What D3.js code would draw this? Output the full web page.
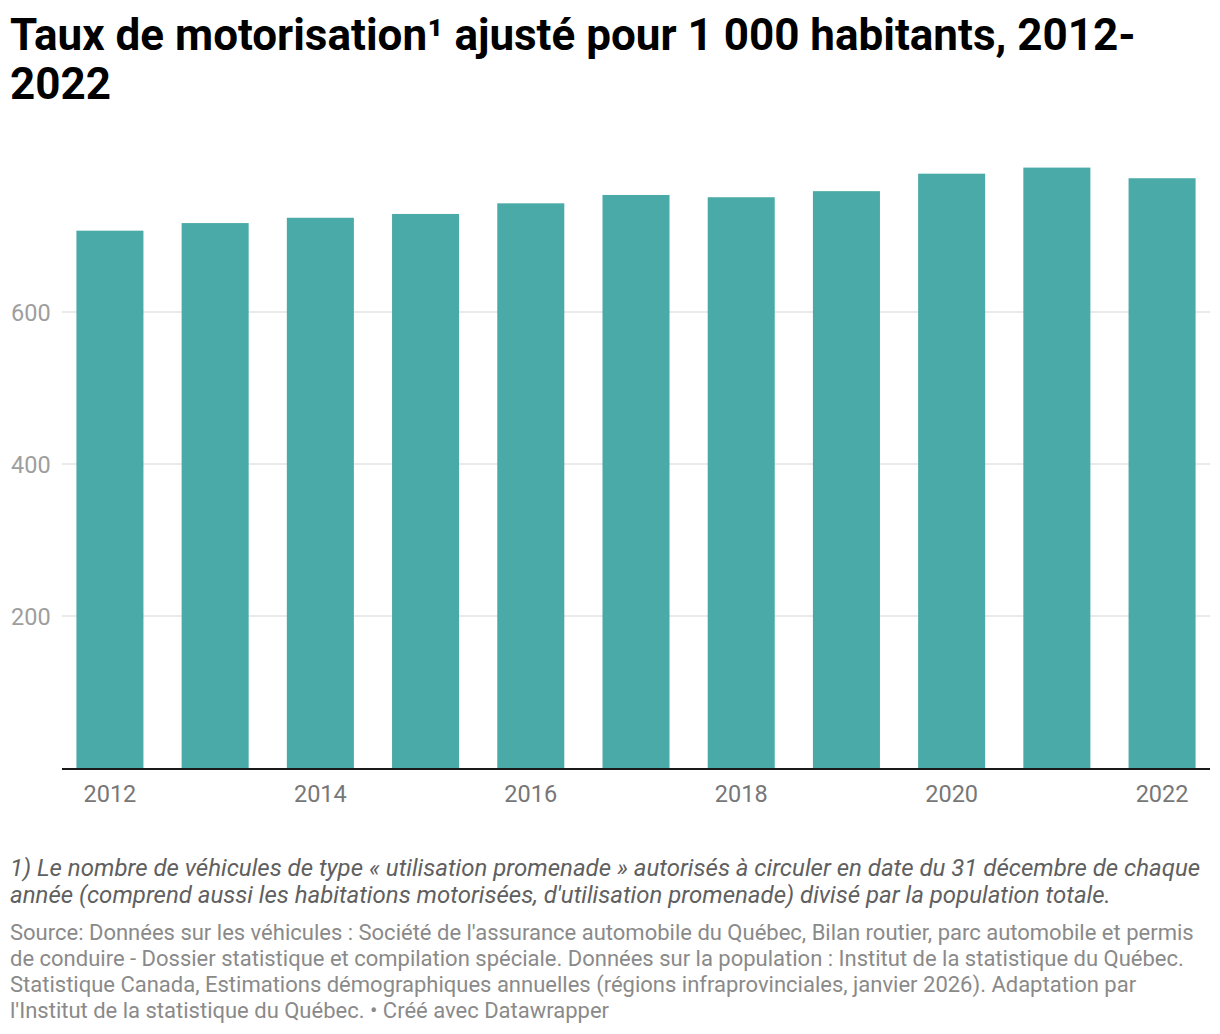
<!DOCTYPE html>
<html>
<head>
<meta charset="utf-8">
<script src="https://cdn.jsdelivr.net/npm/d3@7"></script>
<style>
  body { margin: 0; background: #fff; }
  svg { display: block; font-family: Roboto, sans-serif; }
</style>
</head>
<body>
<svg width="1220" height="1034"></svg>
<script>
// data
var years = ['2012', '2013', '2014', '2015', '2016', '2017', '2018', '2019', '2020', '2021', '2022'];
var values = [707, 717, 724, 729, 743, 754, 751, 759, 782, 790, 776];
var yTicks = [200, 400, 600];
var xTickLabels = ['2012', '2014', '2016', '2018', '2020', '2022'];

var titleLines = ['Taux de motorisation¹ ajusté pour 1 000 habitants, 2012-', '2022'];
var noteLines = [
  '1) Le nombre de véhicules de type « utilisation promenade » autorisés à circuler en date du 31 décembre de chaque',
  "année (comprend aussi les habitations motorisées, d'utilisation promenade) divisé par la population totale."
];
var sourceLines = [
  "Source: Données sur les véhicules : Société de l'assurance automobile du Québec, Bilan routier, parc automobile et permis",
  'de conduire - Dossier statistique et compilation spéciale. Données sur la population : Institut de la statistique du Québec.',
  'Statistique Canada, Estimations démographiques annuelles (régions infraprovinciales, janvier 2026). Adaptation par',
  "l'Institut de la statistique du Québec. • Créé avec Datawrapper"
];

var svg = d3.select('svg');

var left = 62, right = 1210, bottom = 768;

var x = d3.scaleBand()
  .domain(years)
  .range([left, right])
  .paddingInner(0.363)
  .paddingOuter(0.137);

var y = d3.scaleLinear()
  .domain([0, 800])
  .range([bottom, bottom - 800 * 0.76]);

// title
svg.append('text')
  .attr('font-size', 44)
  .attr('font-weight', 700)
  .attr('fill', '#000')
  .selectAll('tspan')
  .data(titleLines).enter().append('tspan')
  .attr('x', 10)
  .attr('y', function(d, i) { return 50 + i * 49; })
  .text(function(d) { return d; });

// grid lines
svg.append('g')
  .selectAll('line')
  .data(yTicks).enter().append('line')
  .attr('x1', left).attr('x2', right)
  .attr('y1', function(d) { return y(d); })
  .attr('y2', function(d) { return y(d); })
  .attr('stroke', '#e3e3e3')
  .attr('stroke-width', 1.5);

// y labels
svg.append('g')
  .selectAll('text')
  .data(yTicks).enter().append('text')
  .attr('x', 11)
  .attr('y', function(d) { return y(d) + 8.5; })
  .attr('font-size', 23.5)
  .attr('fill', '#9e9e9e')
  .text(function(d) { return d; });

// bars
svg.append('g')
  .selectAll('rect')
  .data(values).enter().append('rect')
  .attr('x', function(d, i) { return x(years[i]); })
  .attr('width', x.bandwidth())
  .attr('y', function(d) { return y(d); })
  .attr('height', function(d) { return y(0) - y(d); })
  .attr('fill', '#49aaa7');

// baseline
svg.append('line')
  .attr('x1', left).attr('x2', right)
  .attr('y1', y(0) + 1).attr('y2', y(0) + 1)
  .attr('stroke', '#1a1a1a')
  .attr('stroke-width', 2);

// x labels
svg.append('g')
  .selectAll('text')
  .data(xTickLabels).enter().append('text')
  .attr('x', function(d) { return x(d) + x.bandwidth() / 2; })
  .attr('y', 802)
  .attr('text-anchor', 'middle')
  .attr('font-size', 23.5)
  .attr('fill', '#777')
  .text(function(d) { return d; });

// footnote
svg.append('g')
  .selectAll('text')
  .data(noteLines).enter().append('text')
  .attr('x', 10)
  .attr('y', function(d, i) { return 876 + i * 27; })
  .attr('font-size', 24)
  .attr('font-style', 'italic')
  .attr('fill', '#606060')
  .text(function(d) { return d; });

// source
svg.append('g')
  .selectAll('text')
  .data(sourceLines).enter().append('text')
  .attr('x', 10)
  .attr('y', function(d, i) { return 940 + i * 26; })
  .attr('font-size', 22)
  .attr('fill', '#8a8a8a')
  .text(function(d) { return d; });
</script>
</body>
</html>
